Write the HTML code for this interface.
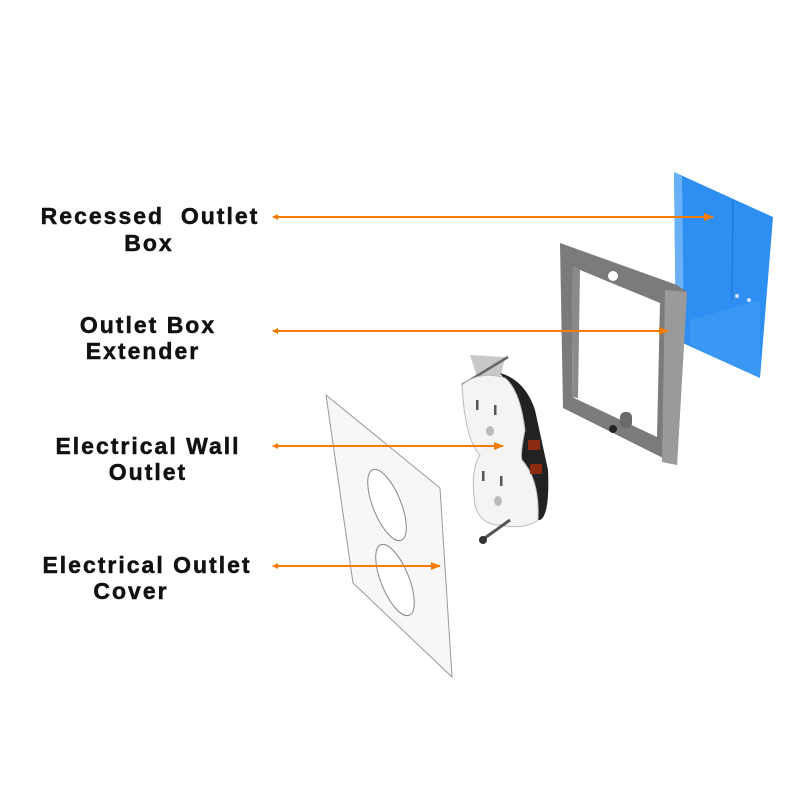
<!DOCTYPE html>
<html><head><style>body{margin:0;background:#fff}svg{display:block}</style></head><body>
<svg width="800" height="800" viewBox="0 0 800 800" xmlns="http://www.w3.org/2000/svg">
<defs>
<marker id="ah" markerWidth="10" markerHeight="8" refX="9" refY="4" orient="auto" markerUnits="userSpaceOnUse"><path d="M0,0 L10,4 L0,8z" fill="#f57c00"/></marker>
<marker id="at" markerWidth="6" markerHeight="6" refX="1" refY="3" orient="auto" markerUnits="userSpaceOnUse"><path d="M6,0 L0,3 L6,6z" fill="#f57c00"/></marker>
</defs>
<polygon points="674,172 773,217 760,378 676,340" fill="#2f8ef2"/>
<polygon points="674,172 682,176 684,340 676,340" fill="#6ab0f6"/>
<line x1="733" y1="200" x2="732" y2="300" stroke="#1f7ae0" stroke-width="1.5"/>
<polygon points="690,320 760,300 760,378 690,345" fill="#3a98f4"/>
<circle cx="737" cy="296" r="2" fill="#cfe6ff"/><circle cx="749" cy="300" r="2" fill="#cfe6ff"/>
<polygon points="560,243 677,285 687,292 677,465 563,408" fill="#7b7b7b"/>
<polygon points="665,290 687,292 677,465 662,462" fill="#9a9a9a"/>
<polygon points="573,267 660,303 657,437 572,397" fill="#fff"/>
<polygon points="573,267 580,270 578,398 572,397" fill="#8a8a8a"/>
<circle cx="613" cy="276" r="5" fill="#fff"/>
<rect x="620" y="412" width="12" height="16" rx="5" fill="#6a6a6a"/>
<circle cx="613" cy="429" r="4" fill="#222"/>
<polygon points="470,355 505,357 500,380 478,380" fill="#c8c8c8"/>
<line x1="462" y1="385" x2="508" y2="357" stroke="#666" stroke-width="2.5"/>
<path d="M500,373 Q525,380 535,410 L548,470 Q550,515 540,520 L520,520 L505,380z" fill="#222"/>
<path d="M462,385 Q480,370 505,378 Q520,390 525,430 Q520,455 522,460 Q540,480 538,520 Q525,530 500,525 Q480,525 475,505 Q470,470 480,455 Q465,440 462,385z" fill="#f4f4f4" stroke="#bbb"/>
<rect x="528" y="440" width="12" height="10" fill="#8a2a10"/><rect x="530" y="464" width="12" height="10" fill="#8a2a10"/>
<rect x="476" y="400" width="2.5" height="10" fill="#555"/><rect x="494" y="405" width="2.5" height="10" fill="#555"/>
<ellipse cx="490" cy="431" rx="4" ry="5" fill="#bbb"/>
<rect x="482" y="471" width="2.5" height="10" fill="#555"/><rect x="500" y="476" width="2.5" height="10" fill="#555"/>
<ellipse cx="498" cy="501" rx="4" ry="5" fill="#bbb"/>
<line x1="482" y1="540" x2="510" y2="520" stroke="#555" stroke-width="3"/>
<circle cx="483" cy="540" r="4" fill="#333"/>
<polygon points="326,395 440,488 452,677 353,583" fill="#f7f7f7" stroke="#999" stroke-width="1"/>
<ellipse cx="387" cy="505" rx="14" ry="38" transform="rotate(-22 387 505)" fill="#fff" stroke="#888"/>
<ellipse cx="395" cy="580" rx="14" ry="38" transform="rotate(-22 395 580)" fill="#fff" stroke="#888"/>
<g stroke="#f57c00" stroke-width="2" marker-end="url(#ah)" marker-start="url(#at)">
<line x1="273" y1="217" x2="713" y2="217"/>
<line x1="273" y1="331" x2="668" y2="331"/>
<line x1="273" y1="446" x2="503" y2="446"/>
<line x1="273" y1="566" x2="440" y2="566"/>
</g>
<g font-family="Liberation Sans, sans-serif" font-weight="bold" font-size="23" fill="#111" text-anchor="middle" letter-spacing="2" stroke="#111" stroke-width="0.5">
<text x="150" y="224" xml:space="preserve">Recessed  Outlet</text>
<text x="149" y="251">Box</text>
<text x="148" y="333">Outlet Box</text>
<text x="143" y="359">Extender</text>
<text x="148" y="454">Electrical Wall</text>
<text x="148" y="480">Outlet</text>
<text x="147" y="573">Electrical Outlet</text>
<text x="131" y="599">Cover</text>
</g>
</svg>
</body></html>
